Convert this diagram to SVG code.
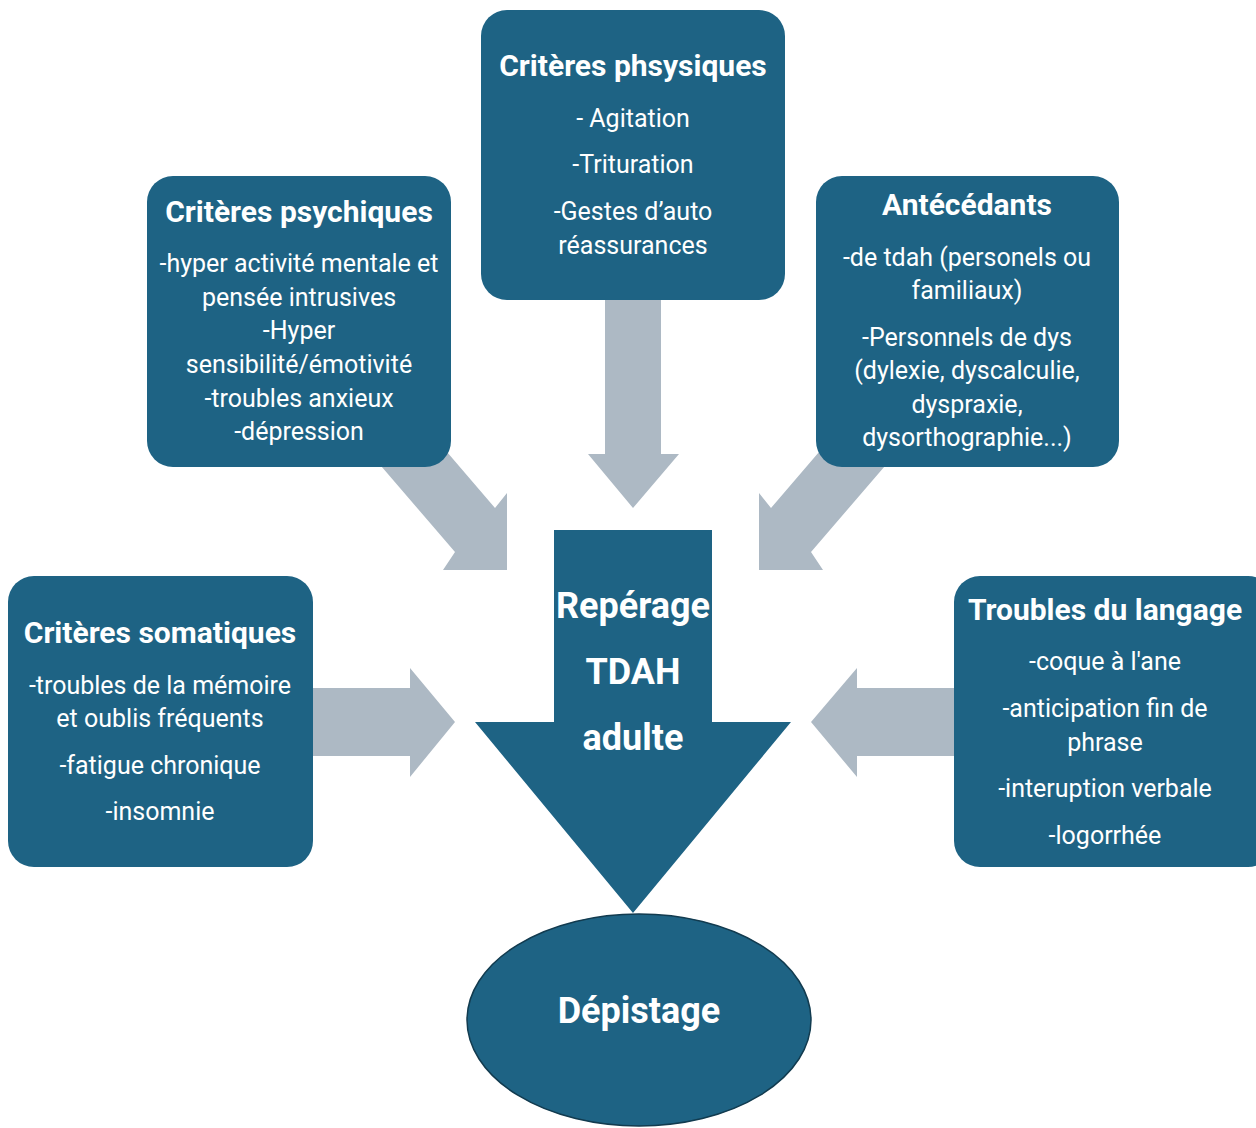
<svg xmlns="http://www.w3.org/2000/svg" width="1256" height="1128" viewBox="0 0 1256 1128">
  <style>
    .box { fill: #1e6384; }
    .conn { fill: #adb9c4; }
    text { font-family: Roboto, "Liberation Sans", sans-serif; fill: #ffffff; text-anchor: middle; }
    .title { font-size: 30px; font-weight: bold; }
    .body { font-size: 25px; }
    .big { font-size: 36px; font-weight: bold; }
  </style>
  <rect width="1256" height="1128" fill="#ffffff"/>

  <g id="connectors">
    <!-- top arrow -->
    <polygon class="conn" points="605,295 661,295 661,454 679,454 633,508 588,454 605,454"/>
    <!-- left diagonal arrow -->
    <polygon class="conn" points="363,445 441,445 495,508 507,493 507,570 443,570 455,552"/>
    <!-- right diagonal arrow -->
    <polygon class="conn" points="903,445 825,445 771,508 759,493 759,570 823,570 811,552"/>
    <!-- left horizontal arrow -->
    <polygon class="conn" points="305,688 410,688 410,668 455,722 410,777 410,756 305,756"/>
    <!-- right horizontal arrow -->
    <polygon class="conn" points="961,688 857,688 857,668 811,722 857,777 857,756 961,756"/>
  </g>

  <g id="node-psychiques">
    <rect class="box" x="147" y="176" width="304" height="291" rx="26"/>
    <text class="title" x="299" y="222">Critères psychiques</text>
    <text class="body" x="299" y="272">-hyper activité mentale et</text>
    <text class="body" x="299" y="306">pensée intrusives</text>
    <text class="body" x="299" y="339">-Hyper</text>
    <text class="body" x="299" y="373">sensibilité/émotivité</text>
    <text class="body" x="299" y="407">-troubles anxieux</text>
    <text class="body" x="299" y="440">-dépression</text>
  </g>

  <g id="node-physiques">
    <rect class="box" x="481" y="10" width="304" height="290" rx="26"/>
    <text class="title" x="633" y="76">Critères phsysiques</text>
    <text class="body" x="633" y="127">- Agitation</text>
    <text class="body" x="633" y="173">-Trituration</text>
    <text class="body" x="633" y="220">-Gestes d’auto</text>
    <text class="body" x="633" y="254">réassurances</text>
  </g>

  <g id="node-antecedants">
    <rect class="box" x="816" y="176" width="303" height="291" rx="26"/>
    <text class="title" x="967" y="215">Antécédants</text>
    <text class="body" x="967" y="266">-de tdah (personels ou</text>
    <text class="body" x="967" y="299">familiaux)</text>
    <text class="body" x="967" y="346">-Personnels de dys</text>
    <text class="body" x="967" y="379">(dylexie, dyscalculie,</text>
    <text class="body" x="967" y="413">dyspraxie,</text>
    <text class="body" x="967" y="446">dysorthographie...)</text>
  </g>

  <g id="node-somatiques">
    <rect class="box" x="8" y="576" width="305" height="291" rx="26"/>
    <text class="title" x="160" y="643">Critères somatiques</text>
    <text class="body" x="160" y="694">-troubles de la mémoire</text>
    <text class="body" x="160" y="727">et oublis fréquents</text>
    <text class="body" x="160" y="774">-fatigue chronique</text>
    <text class="body" x="160" y="820">-insomnie</text>
  </g>

  <g id="node-langage">
    <rect class="box" x="954" y="576" width="320" height="291" rx="26"/>
    <text class="title" x="1105" y="620">Troubles du langage</text>
    <text class="body" x="1105" y="670">-coque à l'ane</text>
    <text class="body" x="1105" y="717">-anticipation fin de</text>
    <text class="body" x="1105" y="751">phrase</text>
    <text class="body" x="1105" y="797">-interuption verbale</text>
    <text class="body" x="1105" y="844">-logorrhée</text>
  </g>

  <g id="node-reperage">
    <polygon class="box" points="554,530 712,530 712,722 791,722 633,913 475,722 554,722"/>
    <text class="big" x="633" y="618">Repérage</text>
    <text class="big" x="633" y="684">TDAH</text>
    <text class="big" x="633" y="750">adulte</text>
  </g>

  <g id="node-depistage">
    <ellipse class="box" cx="639" cy="1020" rx="172" ry="106" stroke="#123b4f" stroke-width="1.5"/>
    <text class="big" x="639" y="1023" font-size="39">Dépistage</text>
  </g>
</svg>
